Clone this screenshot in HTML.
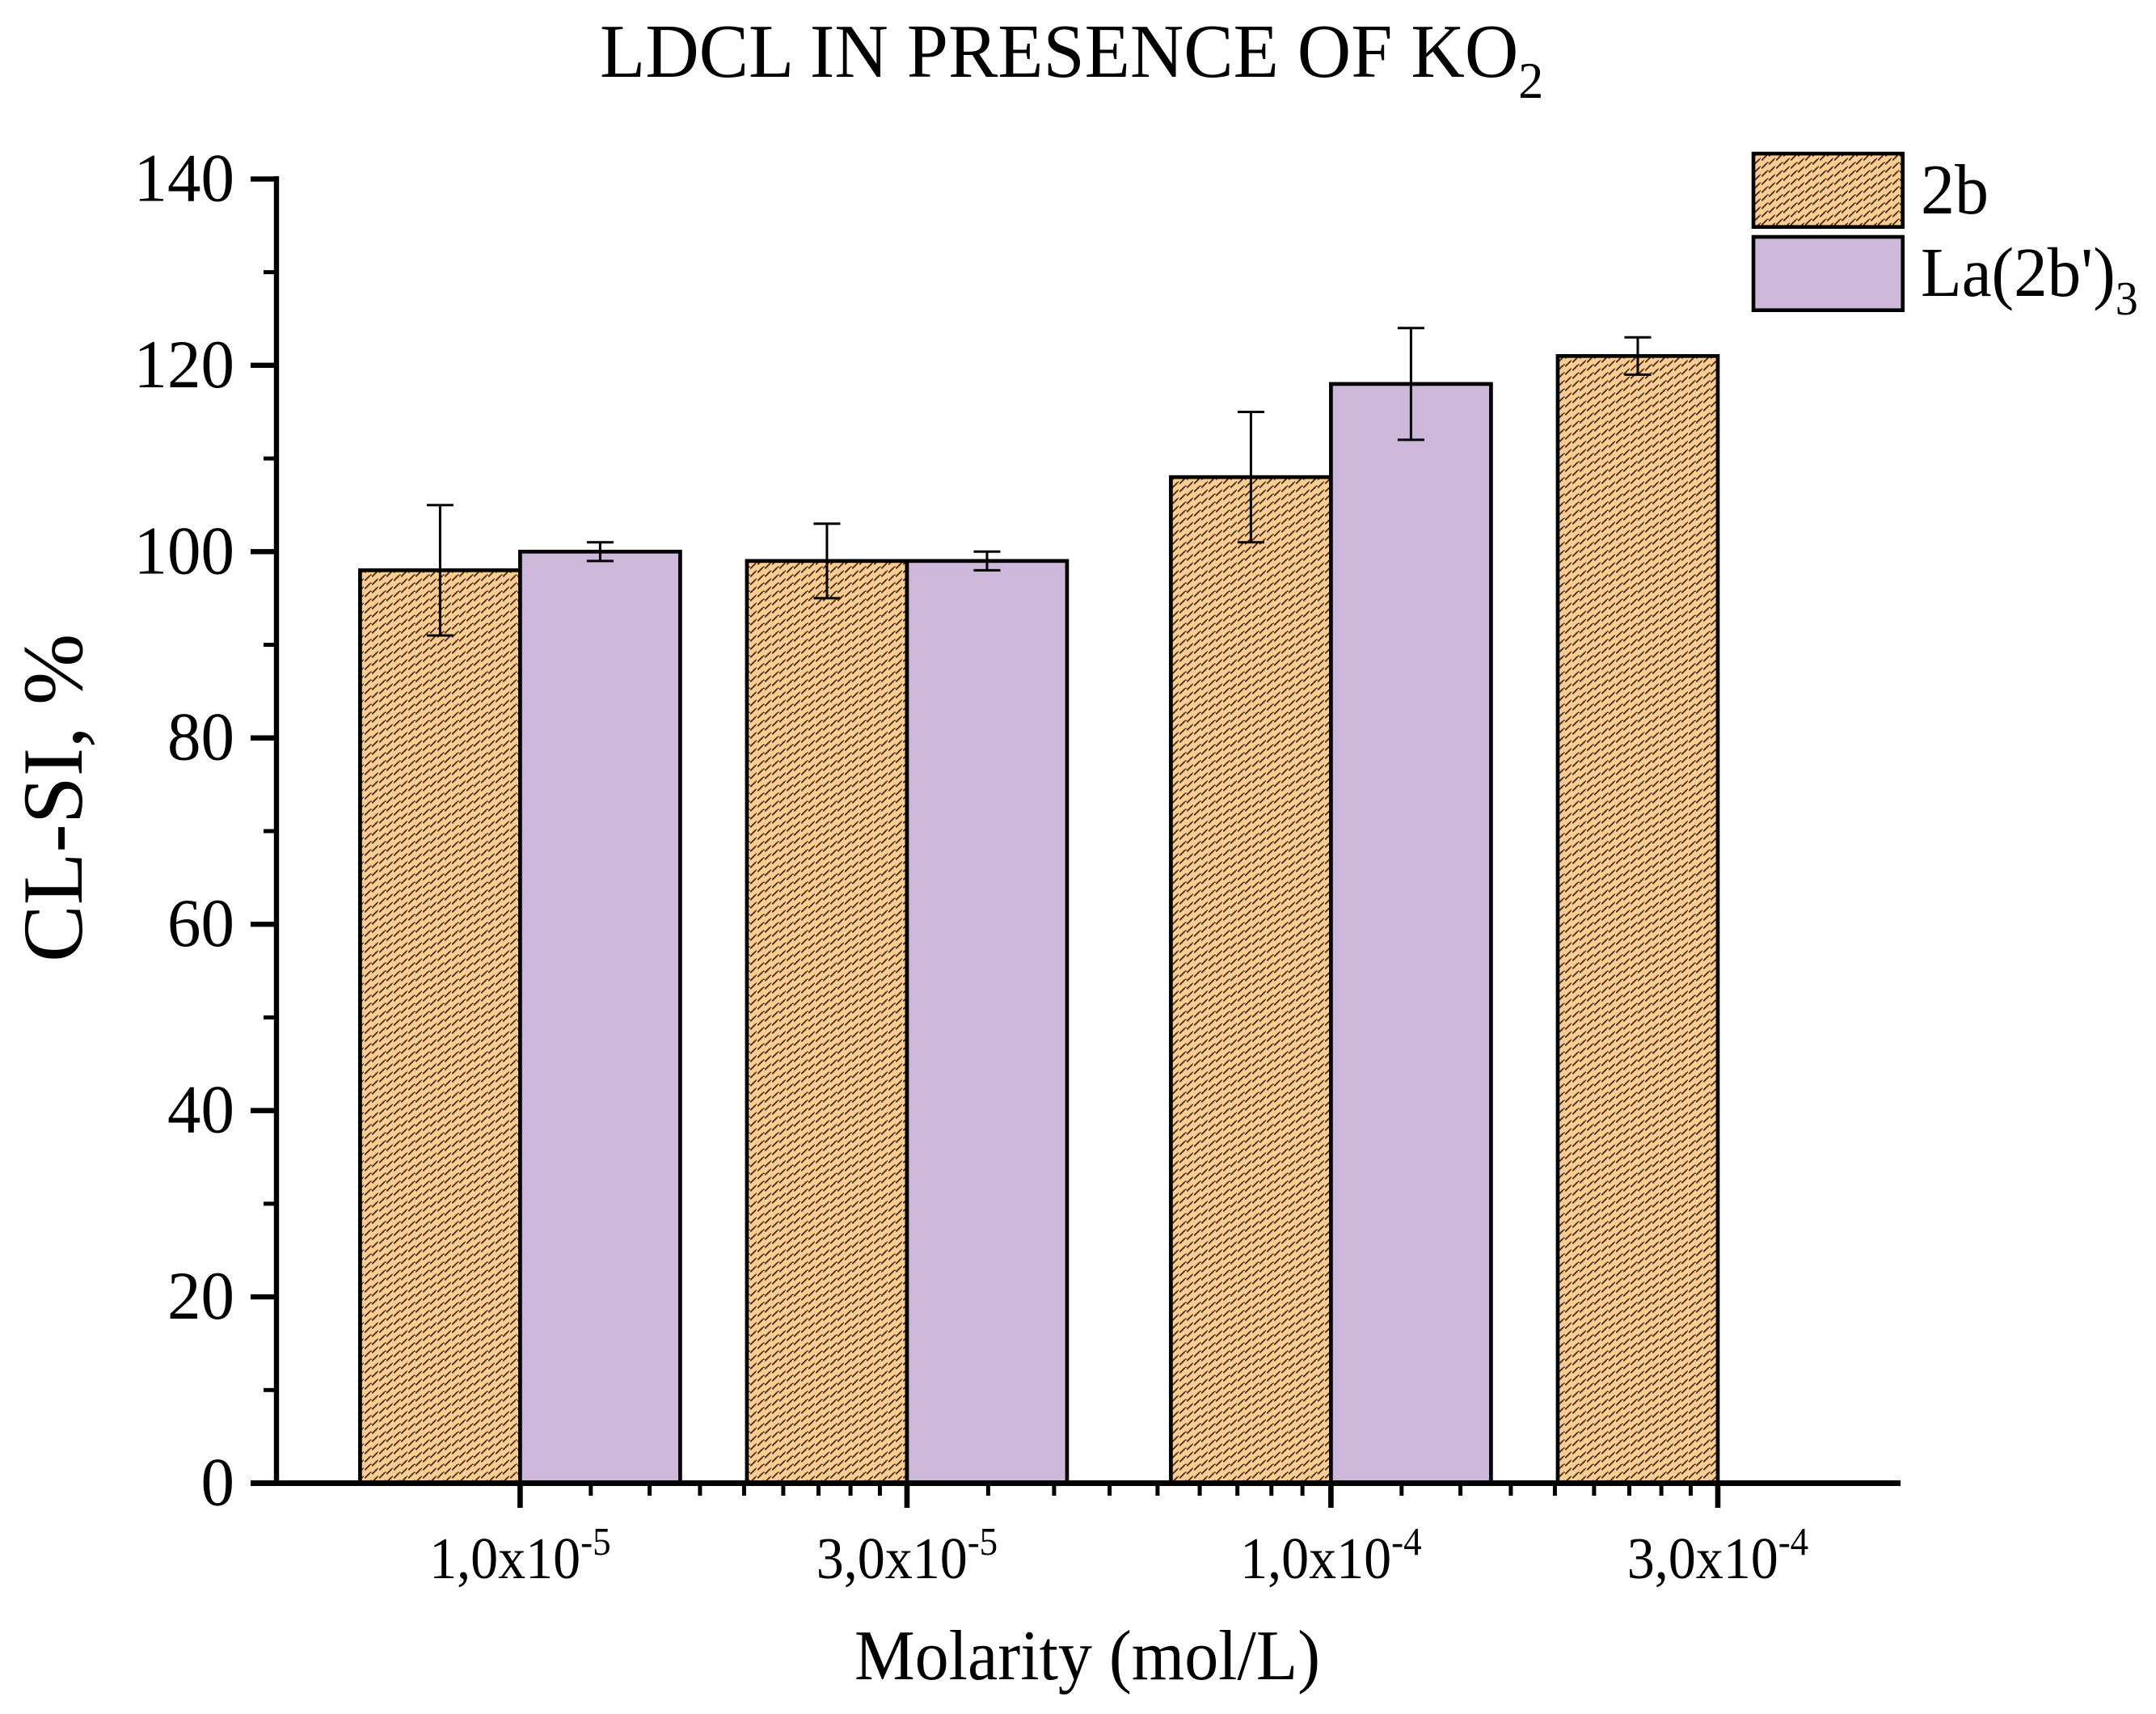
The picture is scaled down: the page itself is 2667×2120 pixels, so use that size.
<!DOCTYPE html>
<html lang="en">
<head>
<meta charset="utf-8">
<title>LDCL in presence of KO2</title>
<style>
html,body{margin:0;padding:0;background:#fff;}
svg{display:block;}
text{font-family:"Liberation Serif",serif;fill:#000;}
</style>
</head>
<body>
<svg id="chart" xmlns="http://www.w3.org/2000/svg" width="2667" height="2120" viewBox="0 0 2667 2120">
  <defs>
    <pattern id="hatch" patternUnits="userSpaceOnUse" width="18" height="10">
      <rect width="18" height="10" fill="#FFCC8F"/>
      <g fill="none" stroke="#000" stroke-width="1" shape-rendering="crispEdges">
        <path d="M1 8h1v-1h1v-1h1v-1h1v-1h1v-1h1v-1h1M8 1h1v1"/>
        <path transform="translate(9 5)" d="M1 8h1v-1h1v-1h1v-1h1v-1h1v-1h1v-1h1M8 1h1v1"/>
        <path transform="translate(9 -5)" d="M1 8h1v-1h1v-1h1v-1h1v-1h1v-1h1v-1h1M8 1h1v1"/>
      </g>
    </pattern>
  </defs>

  <text transform="translate(742 95) scale(1 1.03)" font-size="92">LDCL IN PRESENCE OF KO<tspan font-size="62" dy="25">2</tspan></text>
  <text transform="translate(101 1190) rotate(-90)" font-size="106">CL-SI, %</text>
  <text transform="translate(1057 2077) scale(1 1.05)" font-size="84">Molarity (mol/L)</text>

  <g id="bars"></g>
  <g id="errors"></g>
  <g id="axes"></g>

  <g>
    <g>
      <rect x="2169" y="190" width="184.7" height="90.7" fill="url(#hatch)" stroke="#000" stroke-width="4.6"/>
      <text transform="translate(2376 264) scale(1 1.05)" font-size="84">2b</text>
    </g>
    <g>
      <rect x="2169" y="293" width="184.7" height="90.7" fill="#CDB7DA" stroke="#000" stroke-width="4.6"/>
      <text transform="translate(2376 366) scale(1 1.05)" font-size="83">La(2b')<tspan font-size="56" dy="22">3</tspan></text>
    </g>
  </g>
</svg>
<script>
var categories = [1e-5, 3e-5, 1e-4, 3e-4];
var tickMantissas = ['1,0x10', '3,0x10', '1,0x10', '3,0x10'];
var tickExponents = ['-5', '-5', '-4', '-4'];
var values2b = [98, 99, 108, 121];
var errors2b = [7, 4, 7, 2];
var valuesLa = [100, 99, 118, null];
var errorsLa = [1, 1, 6, null];
var yMajorTicks = [0, 20, 40, 60, 80, 100, 120, 140];
var yMinorTicks = [10, 30, 50, 70, 90, 110, 130];
var minorPerInterval = 8;

var NS = 'http://www.w3.org/2000/svg';
function xScale(c) { return 643.4 + (Math.log10(c) + 5) * 1003; }
function yScale(v) { return 1834.5 - v * 11.522; }
var BAR_W = 198;

function make(tag, attrs, parent) {
  var e = document.createElementNS(NS, tag);
  for (var k in attrs) e.setAttribute(k, attrs[k]);
  parent.appendChild(e);
  return e;
}
var barsG = document.getElementById('bars');
var errG = document.getElementById('errors');
var axesG = document.getElementById('axes');

function drawBar(x, v, fill) {
  var r = make('rect', {x: x, y: yScale(v), width: BAR_W, height: yScale(0) - yScale(v), fill: fill, stroke: '#000', 'stroke-width': 4.7}, barsG);
  
  
}
function drawError(cx, v, e) {
  var s = make('line', {x1: cx, x2: cx, y1: yScale(v + e), y2: yScale(v - e), stroke: '#000', 'stroke-width': 3}, errG);
  
  
  var a = make('line', {x1: cx - 16.5, x2: cx + 16.5, y1: yScale(v + e), y2: yScale(v + e), stroke: '#000', 'stroke-width': 3}, errG);
  
  
  var b = make('line', {x1: cx - 16.5, x2: cx + 16.5, y1: yScale(v - e), y2: yScale(v - e), stroke: '#000', 'stroke-width': 3}, errG);
  
  
}
categories.forEach(function (c, i) {
  var x = xScale(c);
  drawBar(x - BAR_W, values2b[i], 'url(#hatch)');
  if (valuesLa[i] !== null) drawBar(x, valuesLa[i], '#CDB7DA');
});
categories.forEach(function (c, i) {
  var x = xScale(c);
  drawError(x - BAR_W / 2, values2b[i], errors2b[i]);
  if (valuesLa[i] !== null) drawError(x + BAR_W / 2, valuesLa[i], errorsLa[i]);
});

/* y axis */
var yAxisLine = make('line', {x1: 342, x2: 342, y1: yScale(140) - 3.5, y2: yScale(0), stroke: '#000', 'stroke-width': 6.4}, axesG);


yMajorTicks.forEach(function (v) {
  var y = yScale(v);
  if (v !== 0) {
    var t = make('line', {x1: 310, x2: 342, y1: y, y2: y, stroke: '#000', 'stroke-width': 6.4}, axesG);
    
    
  }
  var l = make('text', {transform: 'translate(290 ' + (y + 27) + ') scale(1 1.02)', 'text-anchor': 'end', 'font-size': 83}, axesG);
  l.textContent = String(v);
  
  
});
yMinorTicks.forEach(function (v) {
  var y = yScale(v);
  var t = make('line', {x1: 326, x2: 342, y1: y, y2: y, stroke: '#000', 'stroke-width': 5}, axesG);
  
  
});

/* x axis */
var xAxisLine = make('line', {x1: 310, x2: 2351, y1: 1834.5, y2: 1834.5, stroke: '#000', 'stroke-width': 7}, axesG);


categories.forEach(function (c, i) {
  var x = xScale(c);
  var t = make('line', {x1: x, x2: x, y1: 1834.5, y2: 1865, stroke: '#000', 'stroke-width': 6.6}, axesG);
  
  
  var l = make('text', {transform: 'translate(' + x + ' 1952) scale(1 1.08)', 'text-anchor': 'middle', 'font-size': 68}, axesG);
  
  
  var m = make('tspan', {}, l);
  m.textContent = tickMantissas[i];
  var s = make('tspan', {'font-size': 45, dy: -27}, l);
  s.textContent = tickExponents[i];
  if (i < categories.length - 1) {
    for (var k = 1; k <= minorPerInterval; k++) {
      var val = c + (categories[i + 1] - c) * k / (minorPerInterval + 1);
      var mx = xScale(val);
      var mt = make('line', {x1: mx, x2: mx, y1: 1834.5, y2: 1850, stroke: '#000', 'stroke-width': 5}, axesG);
      
      
    }
  }
});
</script>
</body>
</html>
